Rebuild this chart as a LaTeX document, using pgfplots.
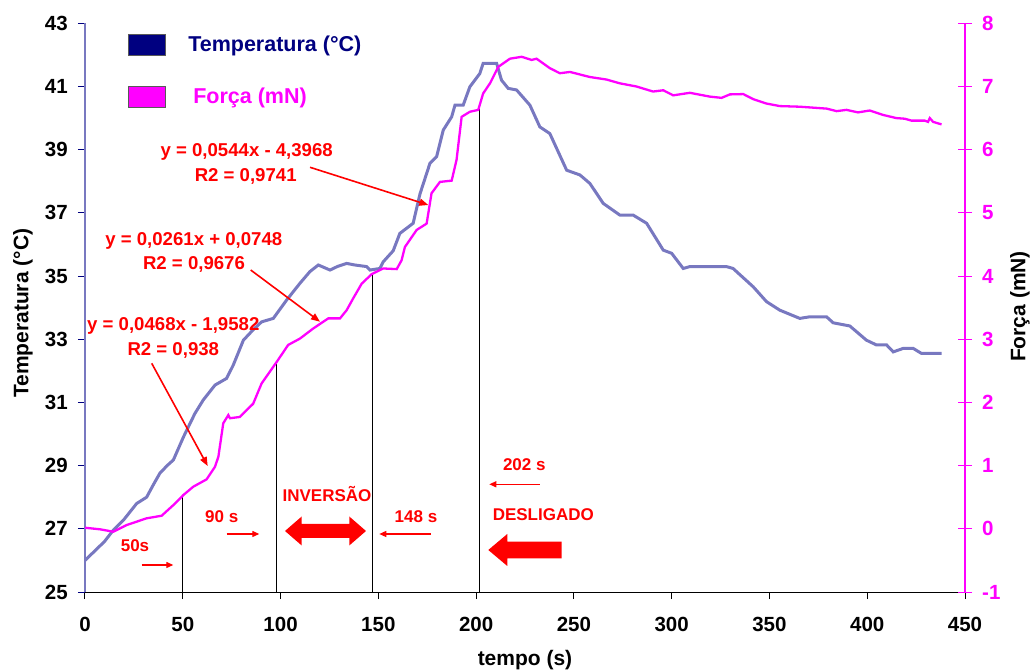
\documentclass[border=0pt]{standalone}
\usepackage{fontspec}
\setmainfont{Liberation Sans}
\usepackage{pgfplots}
\pgfplotsset{compat=1.18}
\usetikzlibrary{arrows.meta}
\definecolor{tempc}{HTML}{7878C0}
\definecolor{navyc}{HTML}{000080}
\definecolor{mag}{HTML}{FF00FF}
\definecolor{redc}{HTML}{FF0000}

\pgfplotstableread{
t T
0 26.0
5 26.3
10 26.6
14.5 26.96
20 27.3
26.4 27.8
31.5 28.0
35 28.4
38.3 28.76
42 29.0
45.2 29.18
50.3 29.9
56.2 30.65
60.5 31.08
66.5 31.55
72.4 31.76
75.8 32.18
81 32.97
86 33.3
90.3 33.55
96.3 33.66
103.1 34.24
109.9 34.77
115 35.14
119.3 35.35
125.3 35.19
129 35.3
133.8 35.4
138 35.35
144 35.3
145.7 35.19
150.8 35.24
152.5 35.45
157.6 35.8
161 36.35
167.8 36.67
171.3 37.6
176.4 38.57
179.8 38.78
183.2 39.62
187.5 40.04
189.2 40.41
193.4 40.41
196.8 40.99
201.9 41.41
203.6 41.73
210.5 41.73
213 41.2
216.4 40.94
220.7 40.89
227.5 40.41
232.6 39.72
237.7 39.51
246.3 38.35
253.1 38.2
258.2 37.93
265 37.3
273.5 36.93
280.3 36.93
287.2 36.67
295.7 35.82
300 35.72
305.9 35.24
309.3 35.3
328 35.3
331.4 35.24
341.7 34.66
348.5 34.19
355.3 33.92
365.5 33.66
370.6 33.71
379.2 33.71
382.6 33.52
391.1 33.42
399.6 32.97
404.7 32.82
409.9 32.82
413.3 32.6
418.4 32.71
423.5 32.71
427.8 32.55
438 32.55
}\temptable

\pgfplotstableread{
t F
0 0.017
7.7 -0.008
14.5 -0.046
21.3 0.06
31.5 0.166
39.2 0.207
45.2 0.376
50.3 0.535
55.4 0.667
62.2 0.783
66.5 0.983
68.2 1.14
70.7 1.67
73.3 1.8
74.1 1.75
79.2 1.77
86 1.98
90.3 2.30
98 2.64
103.9 2.91
109.9 3.01
116.7 3.17
124.4 3.33
130.4 3.33
133.8 3.46
137.2 3.65
141.5 3.88
146.6 4.03
152.5 4.12
159.4 4.11
161.9 4.25
163.6 4.46
169.6 4.73
174.7 4.83
177.2 5.31
181.5 5.49
187.5 5.51
190 5.84
192.6 6.52
196.8 6.60
201.1 6.63
203.6 6.89
207.1 7.05
211.3 7.31
217.3 7.44
223.3 7.47
228.4 7.42
230.9 7.44
237.7 7.29
242.8 7.21
248 7.23
258.2 7.15
266.7 7.11
273.5 7.05
282 7.0
290.5 6.92
295.7 6.94
300.8 6.86
309.3 6.90
319.5 6.84
325.5 6.82
329.8 6.875
336.6 6.88
341.7 6.80
348.5 6.73
355.3 6.69
365.5 6.68
379.2 6.65
384.3 6.61
389.4 6.63
395.3 6.59
401.3 6.62
408.1 6.55
414.9 6.50
419.2 6.49
422.6 6.46
429.4 6.46
431.1 6.44
432 6.50
433.7 6.44
438 6.40
}\forcetable

\newcommand{\tickfont}{\fontsize{20.5bp}{24bp}\selectfont\bfseries}
\newcommand{\labfont}{\fontsize{21bp}{25bp}\selectfont\bfseries}
\newcommand{\legfont}{\fontsize{21.5bp}{25bp}\selectfont\bfseries}
\newcommand{\eqfont}{\fontsize{18.6bp}{22bp}\selectfont\bfseries}
\newcommand{\smfont}{\fontsize{17bp}{20bp}\selectfont\bfseries}

\begin{document}
\begin{tikzpicture}
\path[use as bounding box] (-85bp,-80bp) rectangle (946bp,592bp);
\begin{axis}[
  at={(0,0)}, anchor=south west,
  scale only axis, width=880bp, height=568.7bp,
  xmin=0, xmax=450, ymin=25, ymax=43,
  xtick={0,50,...,450}, ytick={25,27,...,43},
  axis x line*=bottom, axis y line*=left,
  x axis line style={black, line width=1bp, -},
  y axis line style={tempc, line width=1.5bp, -},
  tick align=outside,
  major tick length=7bp,
  x tick style={black, line width=1bp},
  y tick style={navyc, line width=1bp},
  /pgf/number format/assume math mode=true,
  tick label style={font=\tickfont, inner sep=0pt},
  xticklabel style={yshift=-18bp},
  yticklabel style={xshift=-10bp},
  xlabel={tempo (s)},
  ylabel={Temperatura (°C)},
  every axis x label/.style={at={(axis description cs:0.5,-0.1196)}, anchor=center, font=\labfont},
  every axis y label/.style={at={(axis description cs:-0.0705,0.49)}, rotate=90, anchor=center, font=\labfont},
  legend style={draw=none, fill=none, at={(axis description cs:0.0485,0.9852)}, anchor=north west,
    font=\legfont, row sep=26bp, inner sep=0pt, nodes={inner sep=0pt}},
  legend cell align=left,
]
\addplot[tempc, line width=3bp, forget plot] table[x=t,y=T] {\temptable};
\addlegendimage{legend image code/.code={\draw[fill=navyc,draw=black!65,line width=0.8bp] (0bp,-10.85bp) rectangle (37.3bp,10.85bp); \path[draw=none,fill=none] (0bp,-13bp) rectangle (60bp,13bp);}}
\addlegendentry{\textcolor{navyc}{Temperatura (°C)}}
\addlegendimage{legend image code/.code={\draw[fill=mag,draw=black!65,line width=0.8bp] (0bp,-10.85bp) rectangle (37.3bp,10.85bp); \path[draw=none,fill=none] (0bp,-13bp) rectangle (60bp,13bp);}}
\addlegendentry{\hspace*{5bp}\textcolor{mag}{Força (mN)}}
\end{axis}

\begin{axis}[
  at={(0,0)}, anchor=south west,
  scale only axis, width=880bp, height=568.7bp,
  xmin=0, xmax=450, ymin=-1, ymax=8,
  ytick={-1,0,...,8},
  axis x line=none, axis y line*=right,
  y axis line style={mag, line width=1.2bp, -},
  tick align=center,
  major tick length=14bp,
  y tick style={mag, line width=1bp},
  /pgf/number format/assume math mode=true,
  tick label style={font=\tickfont, inner sep=0pt, text=mag},
  yticklabel style={xshift=10bp},
  ylabel={Força (mN)},
  every axis y label/.style={at={(axis description cs:1.0625,0.502)}, rotate=90, anchor=center, font=\labfont},
]
\addplot[black, line width=0.9bp] coordinates {(49.9,-1) (49.9,0.535)};
\addplot[black, line width=0.9bp] coordinates {(98,-1) (98,2.64)};
\addplot[black, line width=0.9bp] coordinates {(147,-1) (147,4.03)};
\addplot[black, line width=0.9bp] coordinates {(201.5,-1) (201.5,6.64)};
\addplot[mag, line width=2.3bp] table[x=t,y=F] {\forcetable};
\end{axis}

\begin{scope}[x=1bp, y=-1bp, shift={(-85bp,592bp)}, every node/.style={text=redc, inner sep=0pt, text height=0.716em, text depth=0pt, anchor=center}]
\node[font=\eqfont] at (246.7,153.3) {y = 0,0544x - 4,3968};
\node[font=\eqfont] at (245.7,178.3) {R2 = 0,9741};
\node[font=\eqfont] at (193.8,241.7) {y = 0,0261x + 0,0748};
\node[font=\eqfont] at (194,266) {R2 = 0,9676};
\node[font=\eqfont] at (173.3,326.7) {y = 0,0468x - 1,9582};
\node[font=\eqfont] at (173.3,351.7) {R2 = 0,938};
\node[font=\smfont] at (135,547.7) {50s};
\node[font=\smfont] at (221.7,519) {90 s};
\node[font=\smfont] at (327,498) {INVERSÃO};
\node[font=\smfont] at (416,519) {148 s};
\node[font=\smfont] at (524.3,466.7) {202 s};
\node[font=\smfont] at (543.3,517.3) {DESLIGADO};
\begin{scope}[redc, line width=1.6bp, -{Triangle[length=9bp,width=7bp]}]
\draw (310,167.3) -- (428.3,205);
\draw (250.7,270) -- (320,321.7);
\draw (151.7,363.3) -- (207.7,466);
\end{scope}
\begin{scope}[redc, line width=1.3bp, -{Triangle[length=7bp,width=6bp]}]
\draw (141.7,565) -- (173.3,565);
\draw (226.7,534) -- (259.3,534);
\draw (430.7,534) -- (379.3,534);
\draw (540,484.3) -- (489.3,484.3);
\end{scope}
\fill[redc] (285,531) -- (301.7,516.5) -- (301.7,524) -- (349.3,524) -- (349.3,516.5) -- (366,531) -- (349.3,545.5) -- (349.3,538) -- (301.7,538) -- (301.7,545.5) -- cycle;
\fill[redc] (488.3,550) -- (507.3,534) -- (507.3,541.7) -- (561.7,541.7) -- (561.7,558.3) -- (507.3,558.3) -- (507.3,566) -- cycle;
\end{scope}
\end{tikzpicture}
\end{document}
